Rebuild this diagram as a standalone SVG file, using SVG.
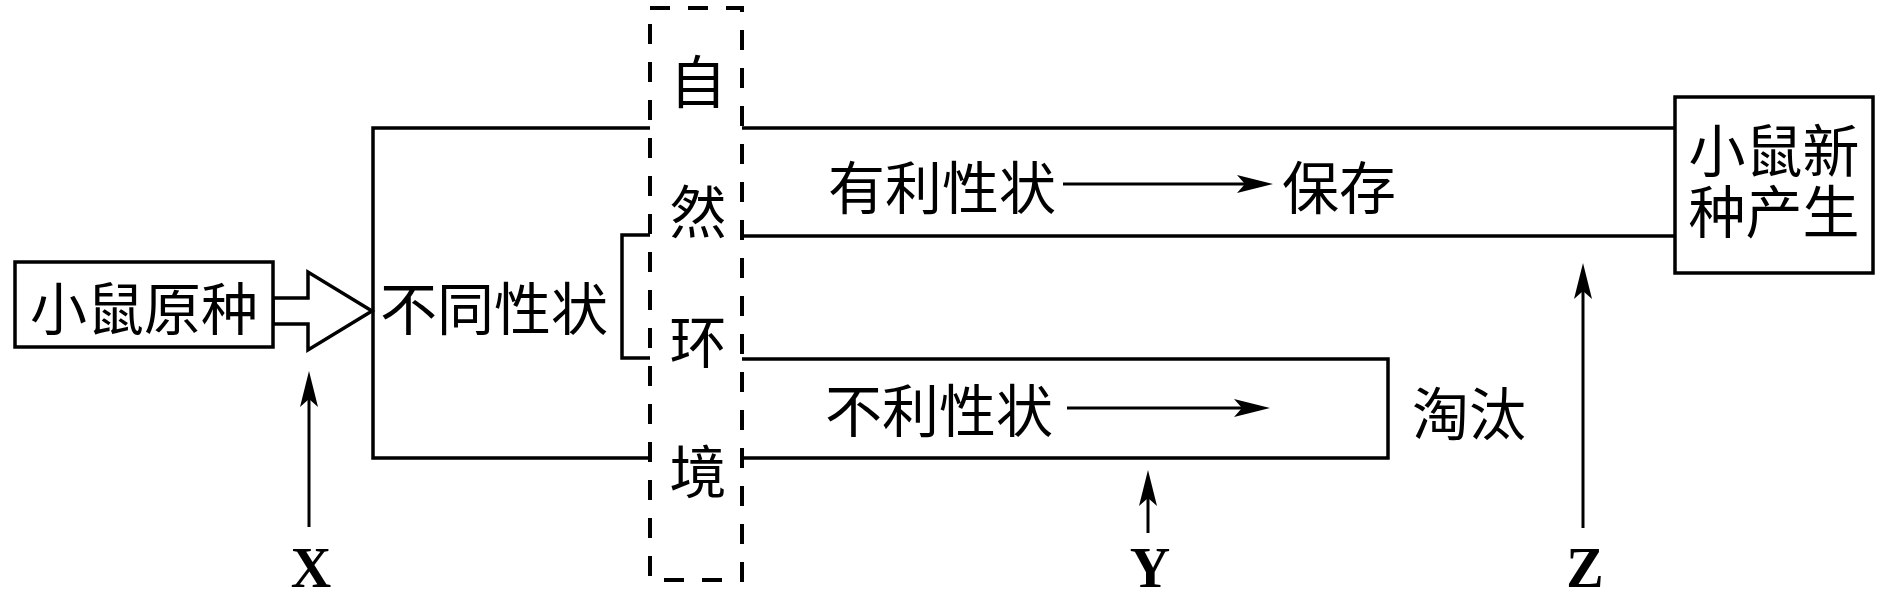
<svg xmlns="http://www.w3.org/2000/svg" width="1890" height="616" viewBox="0 0 1890 616">
<style>
.ln{fill:none;stroke:#000;stroke-width:3.5}
.box{fill:#fff;stroke:#000;stroke-width:3.5}
.dash{fill:none;stroke:#000;stroke-width:4;stroke-dasharray:20 18}
.t{font-family:"Noto Sans CJK SC","Noto Sans",sans-serif;font-size:57px;fill:#000;text-anchor:middle;dominant-baseline:central}
.lab{font-family:"Liberation Serif",serif;font-weight:bold;font-size:56px;fill:#000;text-anchor:middle}
.arr{fill:none;stroke:#000;stroke-width:3}
</style>
<defs>
<marker id="ah" viewBox="0 0 36 18" refX="16" refY="9" markerWidth="36" markerHeight="18" markerUnits="userSpaceOnUse" orient="auto">
<path d="M0,0 L36,9 L0,18 L8,9 z" fill="#000"/>
</marker>
</defs>
<g id="connectors">
<path class="ln" d="M650,128 H373 V458 H650"/>
<path class="ln" d="M650,235 H622 V358 H650"/>
<path class="ln" d="M742,128 H1675"/>
<path class="ln" d="M742,236 H1675"/>
<path class="ln" d="M742,359 H1388 V458 H742"/>
<polygon class="box" points="273,298 308,298 308,272 372,311 308,350 308,324 273,324"/>
<line class="arr" x1="1063" y1="184" x2="1253" y2="184" marker-end="url(#ah)"/>
<line class="arr" x1="1067" y1="408" x2="1250" y2="408" marker-end="url(#ah)"/>
<line class="arr" x1="309" y1="527" x2="309" y2="391" marker-end="url(#ah)"/>
<line class="arr" x1="1148" y1="533" x2="1148" y2="490" marker-end="url(#ah)"/>
<line class="arr" x1="1583" y1="528" x2="1583" y2="283" marker-end="url(#ah)"/>
</g>
<g id="node-original">
<rect class="box" x="15" y="262" width="258" height="85"/>
<text class="t" x="144" y="305">小鼠原种</text>
</g>
<g id="node-traits">
<text class="t" x="494" y="305">不同性状</text>
</g>
<g id="node-environment">
<rect class="dash" x="650" y="8" width="92" height="572"/>
<text class="t" x="698" y="78">自</text>
<text class="t" x="698" y="208">然</text>
<text class="t" x="698" y="338">环</text>
<text class="t" x="698" y="468">境</text>
</g>
<g id="node-favorable">
<text class="t" x="942" y="184">有利性状</text>
</g>
<g id="node-preserve">
<text class="t" x="1339" y="184">保存</text>
</g>
<g id="node-unfavorable">
<text class="t" x="939" y="407">不利性状</text>
</g>
<g id="node-eliminate">
<text class="t" x="1469" y="410">淘汰</text>
</g>
<g id="node-new">
<rect class="box" x="1675" y="97" width="198" height="176"/>
<text class="t"><tspan x="1774" y="147">小鼠新</tspan><tspan x="1774" y="208">种产生</tspan></text>
</g>
<g id="labels">
<text class="lab" x="311" y="587">X</text>
<text class="lab" x="1150" y="587">Y</text>
<text class="lab" x="1585" y="587">Z</text>
</g>
</svg>
